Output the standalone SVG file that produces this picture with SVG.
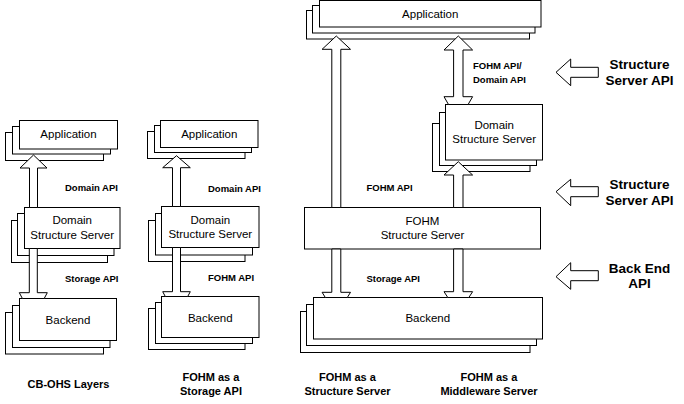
<svg xmlns="http://www.w3.org/2000/svg" width="684" height="404" viewBox="0 0 684 404">
<style>
rect{fill:#fff;stroke:#000;stroke-width:1}
.c path{fill:#fff;stroke:#000;stroke-width:1;stroke-linejoin:miter}
.n{font-family:"Liberation Sans",Arial,sans-serif;font-size:11.5px;fill:#000;text-anchor:middle}
.l{font-family:"Liberation Sans",Arial,sans-serif;font-size:9.5px;font-weight:bold;fill:#000}
.r{font-family:"Liberation Sans",Arial,sans-serif;font-size:13.5px;font-weight:bold;fill:#000;text-anchor:middle}
.cap{font-family:"Liberation Sans",Arial,sans-serif;font-size:11px;font-weight:bold;fill:#000;text-anchor:middle}
</style>
<rect x="0" y="0" width="684" height="404" style="stroke:none;fill:#fff"/>

<g id="app1">
<rect x="5.5" y="132.5" width="98" height="28"/>
<rect x="12.5" y="126.5" width="98" height="27.5"/>
<rect x="19.5" y="120.5" width="98" height="28.5"/>
<text class="n" x="68.5" y="138">Application</text>
</g>
<g id="dss1">
<rect x="11.5" y="220.5" width="96" height="42"/>
<rect x="17.5" y="213.5" width="96.5" height="42"/>
<rect x="24.5" y="207.5" width="95.5" height="41"/>
<text class="n" x="72.2" y="224">Domain</text>
<text class="n" x="72.2" y="238.5">Structure Server</text>
</g>
<g id="backend1">
<rect x="5.5" y="312.5" width="98" height="41.5"/>
<rect x="12.5" y="305.5" width="97.5" height="42"/>
<rect x="19.5" y="298.5" width="97" height="42"/>
<text class="n" x="68" y="323.5">Backend</text>
</g>

<g id="app2">
<rect x="147.5" y="131.5" width="97.5" height="27"/>
<rect x="154.5" y="125.5" width="97" height="27"/>
<rect x="160.5" y="120.5" width="97.5" height="27"/>
<text class="n" x="209.3" y="137.5">Application</text>
</g>
<g id="dss2">
<rect x="148.5" y="220.5" width="96.5" height="41"/>
<rect x="155.5" y="213.5" width="97" height="41.5"/>
<rect x="161.5" y="206.5" width="97.5" height="41"/>
<text class="n" x="210.3" y="224">Domain</text>
<text class="n" x="210.3" y="238">Structure Server</text>
</g>
<g id="backend2">
<rect x="148.5" y="308.5" width="96.5" height="41"/>
<rect x="155.5" y="302.5" width="97" height="41"/>
<rect x="161.5" y="296.5" width="97.5" height="41"/>
<text class="n" x="210.3" y="322">Backend</text>
</g>

<g id="app3">
<rect x="306.5" y="10.5" width="223" height="28.5"/>
<rect x="312.5" y="5.5" width="222.5" height="27.5"/>
<rect x="319.5" y="0.5" width="221.5" height="26.5"/>
<text class="n" x="430.2" y="17.5">Application</text>
</g>
<g id="dss3">
<rect x="432.5" y="123.5" width="97.5" height="48"/>
<rect x="439.5" y="112.5" width="97" height="53"/>
<rect x="445.5" y="104.5" width="97" height="55.5"/>
<text class="n" x="494.2" y="129">Domain</text>
<text class="n" x="494.2" y="143">Structure Server</text>
</g>
<g id="fohm3">
<rect x="304.5" y="207.5" width="236" height="41.5"/>
<text class="n" x="422.5" y="225">FOHM</text>
<text class="n" x="422.5" y="239">Structure Server</text>
</g>
<g id="backend3">
<rect x="300.5" y="311.5" width="229.5" height="41"/>
<rect x="306.5" y="304.5" width="230" height="41"/>
<rect x="313.5" y="297.5" width="229" height="41.5"/>
<text class="n" x="427.8" y="322">Backend</text>
</g>

<g id="connectors" class="c">
<path d="M29.5,207.5 V168 H20 L33.5,155 L47,168 H37.5 V207.5 Z"/>
<path d="M29.3,248.5 V292.7 H19.3 L22.4,298.5 H44.2 L47.3,292.7 H37.3 V248.5 Z"/>
<path d="M172.5,206.5 V167.7 H162.7 L176.5,155.7 L190.3,167.7 H180.5 V206.5 Z"/>
<path d="M172.5,247.5 V291.7 H162.7 L165.3,296.5 H187.7 L190.3,291.7 H180.5 V247.5 Z"/>
<path d="M331.8,207.5 V49.3 H322.1 L336.3,36 L350.5,49.3 H340.8 V207.5 Z"/>
<path d="M331.8,249 V292.3 H322.1 L325.3,297.5 H347.3 L350.5,292.3 H340.8 V249 Z"/>
<path d="M453.6,96.7 H444 L448.5,104.5 H468.1 L472.6,96.7 H463 V50 H472.6 L458.3,36 L444,50 H453.6 Z"/>
<path d="M453.6,207.5 V175 H444 L458.3,161.7 L472.6,175 H463 V207.5 Z"/>
<path d="M453.6,249 V291.7 H444 L447.8,297.5 H468.8 L472.6,291.7 H463 V249 Z"/>
</g>

<g id="labels">
<text class="l" x="65" y="190.5">Domain API</text>
<text class="l" x="65" y="281.5">Storage API</text>
<text class="l" x="208" y="191.5">Domain API</text>
<text class="l" x="208" y="280.5">FOHM API</text>
<text class="l" x="473" y="69">FOHM API/</text>
<text class="l" x="473" y="82.5">Domain API</text>
<text class="l" x="366.5" y="191">FOHM API</text>
<text class="l" x="366.5" y="282">Storage API</text>
</g>

<g id="api-legend" class="c">
<path d="M556,72.3 L570.7,59 V67.3 H598.3 V77.3 H570.7 V85.7 Z"/>
<path d="M556,191.7 L570.7,179.3 V186.7 H598.3 V196.7 H570.7 V205.7 Z"/>
<path d="M556,276.7 L570.7,262.7 V270.7 H598.3 V280.7 H570.7 V289.3 Z"/>
<text class="r" x="639.5" y="69.3">Structure</text>
<text class="r" x="639.5" y="85">Server API</text>
<text class="r" x="639.5" y="189.3">Structure</text>
<text class="r" x="639.5" y="205">Server API</text>
<text class="r" x="639.5" y="272.7">Back End</text>
<text class="r" x="639.5" y="288.3">API</text>
</g>

<g id="captions">
<text class="cap" x="68.5" y="388">CB-OHS Layers</text>
<text class="cap" x="211" y="381">FOHM as a</text>
<text class="cap" x="211" y="395">Storage API</text>
<text class="cap" x="347.5" y="381">FOHM as a</text>
<text class="cap" x="347.5" y="395">Structure Server</text>
<text class="cap" x="489" y="381">FOHM as a</text>
<text class="cap" x="489" y="395">Middleware Server</text>
</g>
</svg>
